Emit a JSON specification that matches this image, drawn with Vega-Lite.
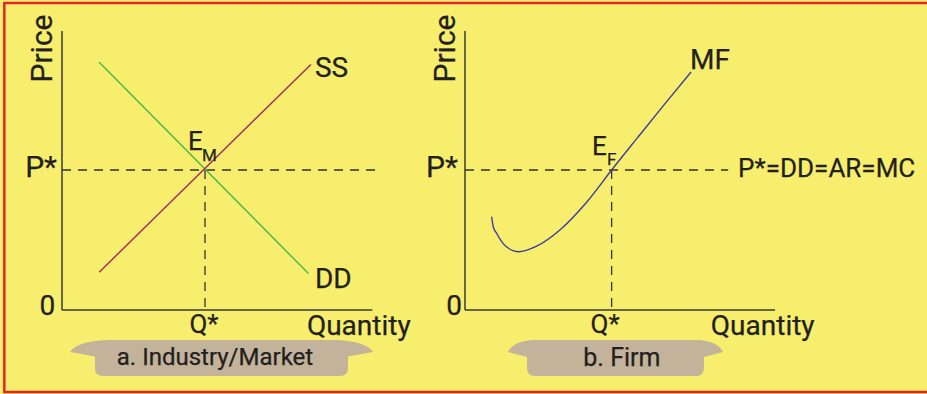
{
  "$schema": "https://vega.github.io/schema/vega-lite/v6.json",
  "width": 927,
  "height": 394,
  "padding": 0,
  "autosize": {"type": "none"},
  "background": "#F7EE6D",
  "config": {"view": {"stroke": null}, "text": {"font": "Roboto", "color": "#231F20", "stroke": "#231F20", "strokeWidth": 0.25}},
  "datasets": {
    "frame": [{"x": -1.86, "x2": 30, "y": 10.96, "y2": -2.93}],
    "plates": [
      {"panel": "a", "q": 5.145, "p": -1.714},
      {"panel": "b", "q": 17.855, "p": -1.714}
    ],
    "axes": [
      {"panel": "a", "q": 0, "p": 0, "q2": 0, "p2": 9.96},
      {"panel": "a", "q": 0, "p": 0, "q2": 10.01, "p2": 0},
      {"panel": "b", "q": 13, "p": 0, "q2": 13, "p2": 9.96},
      {"panel": "b", "q": 13, "p": 0, "q2": 23, "p2": 0}
    ],
    "guides": [
      {"panel": "a", "q": 0, "p": 5, "q2": 10.15, "p2": 5},
      {"panel": "a", "q": 4.613, "p": 5, "q2": 4.613, "p2": 0},
      {"panel": "b", "q": 13, "p": 5, "q2": 21.49, "p2": 5},
      {"panel": "b", "q": 17.73, "p": 5, "q2": 17.73, "p2": 0}
    ],
    "curves": [
      {"series": "DD", "q": 1.2, "p": 8.85},
      {"series": "DD", "q": 7.95, "p": 1.3},
      {"series": "SS", "q": 1.2, "p": 1.35},
      {"series": "SS", "q": 8.03, "p": 8.77},
      {"series": "MF", "q": 13.86, "p": 3.33},
      {"series": "MF", "q": 13.91, "p": 2.98},
      {"series": "MF", "q": 14.02, "p": 2.74},
      {"series": "MF", "q": 14.24, "p": 2.36},
      {"series": "MF", "q": 14.45, "p": 2.17},
      {"series": "MF", "q": 14.72, "p": 2.08},
      {"series": "MF", "q": 15.31, "p": 2.28},
      {"series": "MF", "q": 16.06, "p": 2.86},
      {"series": "MF", "q": 16.93, "p": 3.86},
      {"series": "MF", "q": 17.73, "p": 5.0},
      {"series": "MF", "q": 18.54, "p": 6.12},
      {"series": "MF", "q": 19.4, "p": 7.3},
      {"series": "MF", "q": 20.29, "p": 8.5}
    ],
    "labels": [
      {"kind": "price", "label": "Price", "q": -0.32, "p": 9.34},
      {"kind": "price", "label": "Price", "q": 12.68, "p": 9.34},
      {"kind": "pstar", "label": "P*", "q": -0.16, "p": 4.75},
      {"kind": "pstar", "label": "P*", "q": 12.77, "p": 4.75},
      {"kind": "zero", "label": "0", "q": -0.47, "p": -0.18},
      {"kind": "zero", "label": "0", "q": 12.65, "p": -0.18},
      {"kind": "qstar", "label": "Q*", "q": 4.58, "p": -0.82},
      {"kind": "qstar", "label": "Q*", "q": 17.52, "p": -0.82},
      {"kind": "axis", "label": "Quantity", "q": 7.9, "p": -0.89},
      {"kind": "axis", "label": "Quantity", "q": 20.93, "p": -0.89},
      {"kind": "curve", "label": "SS", "q": 8.16, "p": 8.32},
      {"kind": "curve", "label": "DD", "q": 8.16, "p": 0.786},
      {"kind": "curve", "label": "MF", "q": 20.26, "p": 8.61},
      {"kind": "eq", "label": "E", "q": 4.065, "p": 5.73},
      {"kind": "eq", "label": "E", "q": 17.1, "p": 5.54},
      {"kind": "sub", "label": "M", "q": 4.516, "p": 5.32},
      {"kind": "sub", "label": "F", "q": 17.58, "p": 5.18},
      {"kind": "rule", "label": "P*=DD=AR=MC", "q": 21.81, "p": 4.75},
      {"kind": "plateA", "label": "a. Industry/Market", "q": 4.935, "p": -1.98},
      {"kind": "plateB", "label": "b. Firm", "q": 18.06, "p": -2.0}
    ]
  },
  "encoding": {
    "x": {"field": "q", "type": "quantitative", "axis": null, "scale": {"domain": [-2, 27.903], "nice": false, "zero": false}},
    "y": {"field": "p", "type": "quantitative", "axis": null, "scale": {"domain": [-3, 11.0714], "nice": false, "zero": false}}
  },
  "layer": [
    {
      "data": {"name": "frame"},
      "mark": {"type": "rect", "fill": null, "stroke": "#E3262A", "strokeWidth": 2.5, "clip": true},
      "encoding": {
        "x": {"field": "x", "type": "quantitative"},
        "x2": {"field": "x2"},
        "y": {"field": "y", "type": "quantitative"},
        "y2": {"field": "y2"}
      }
    },
    {
      "data": {"name": "plates"},
      "transform": [{"filter": "datum.panel === 'a'"}],
      "mark": {"type": "point", "filled": true, "color": "#C3B39A", "opacity": 1, "strokeWidth": 0, "size": 91809,
        "shape": "M -0.736 -0.119 L 0.736 -0.119 Q 0.95 -0.115 1 -0.04 L 0.835 -0.01 L 0.835 0.07 Q 0.835 0.119 0.78 0.119 L -0.78 0.119 Q -0.835 0.119 -0.835 0.07 L -0.835 -0.01 L -1 -0.04 Q -0.95 -0.115 -0.736 -0.119 Z"}
    },
    {
      "data": {"name": "plates"},
      "transform": [{"filter": "datum.panel === 'b'"}],
      "mark": {"type": "point", "filled": true, "color": "#C3B39A", "opacity": 1, "strokeWidth": 0, "size": 46225,
        "shape": "M -0.749 -0.167 L 0.749 -0.167 Q 0.95 -0.16 1 -0.056 L 0.823 -0.01 L 0.823 0.09 Q 0.823 0.167 0.75 0.167 L -0.75 0.167 Q -0.823 0.167 -0.823 0.09 L -0.823 -0.01 L -1 -0.056 Q -0.95 -0.16 -0.749 -0.167 Z"}
    },
    {
      "data": {"name": "axes"},
      "mark": {"type": "rule", "color": "#3A3A3A", "strokeWidth": 1.5},
      "encoding": {"x2": {"field": "q2"}, "y2": {"field": "p2"}}
    },
    {
      "data": {"name": "guides"},
      "mark": {"type": "rule", "color": "#333333", "strokeWidth": 1.3, "strokeDash": [9, 7]},
      "encoding": {"x2": {"field": "q2"}, "y2": {"field": "p2"}}
    },
    {
      "data": {"name": "curves"},
      "mark": {"type": "line", "strokeWidth": 1.4, "interpolate": "monotone"},
      "encoding": {
        "color": {"field": "series", "type": "nominal", "legend": null,
          "scale": {"domain": ["DD", "SS", "MF"], "range": ["#45B649", "#A5285E", "#3C3C9E"]}},
        "detail": {"field": "series"}
      }
    },
    {
      "data": {"name": "labels"},
      "transform": [{"filter": "datum.kind === 'price'"}],
      "mark": {"type": "text", "fontSize": 30, "angle": 270, "align": "center", "baseline": "alphabetic"},
      "encoding": {"text": {"field": "label"}}
    },
    {
      "data": {"name": "labels"},
      "transform": [{"filter": "datum.kind === 'pstar'"}],
      "mark": {"type": "text", "fontSize": 30, "align": "right", "baseline": "alphabetic"},
      "encoding": {"text": {"field": "label"}}
    },
    {
      "data": {"name": "labels"},
      "transform": [{"filter": "datum.kind === 'zero'"}],
      "mark": {"type": "text", "fontSize": 28, "align": "center", "baseline": "alphabetic"},
      "encoding": {"text": {"field": "label"}}
    },
    {
      "data": {"name": "labels"},
      "transform": [{"filter": "datum.kind === 'qstar'"}],
      "mark": {"type": "text", "fontSize": 26, "align": "center", "baseline": "alphabetic"},
      "encoding": {"text": {"field": "label"}}
    },
    {
      "data": {"name": "labels"},
      "transform": [{"filter": "datum.kind === 'axis'"}],
      "mark": {"type": "text", "fontSize": 28, "align": "left", "baseline": "alphabetic"},
      "encoding": {"text": {"field": "label"}}
    },
    {
      "data": {"name": "labels"},
      "transform": [{"filter": "datum.kind === 'curve'"}],
      "mark": {"type": "text", "fontSize": 28, "align": "left", "baseline": "alphabetic"},
      "encoding": {"text": {"field": "label"}}
    },
    {
      "data": {"name": "labels"},
      "transform": [{"filter": "datum.kind === 'eq'"}],
      "mark": {"type": "text", "fontSize": 26, "align": "left", "baseline": "alphabetic"},
      "encoding": {"text": {"field": "label"}}
    },
    {
      "data": {"name": "labels"},
      "transform": [{"filter": "datum.kind === 'sub'"}],
      "mark": {"type": "text", "fontSize": 17, "align": "left", "baseline": "alphabetic"},
      "encoding": {"text": {"field": "label"}}
    },
    {
      "data": {"name": "labels"},
      "transform": [{"filter": "datum.kind === 'rule'"}],
      "mark": {"type": "text", "fontSize": 26, "align": "left", "baseline": "alphabetic"},
      "encoding": {"text": {"field": "label"}}
    },
    {
      "data": {"name": "labels"},
      "transform": [{"filter": "datum.kind === 'plateA'"}],
      "mark": {"type": "text", "fontSize": 24, "align": "center", "baseline": "alphabetic"},
      "encoding": {"text": {"field": "label"}}
    },
    {
      "data": {"name": "labels"},
      "transform": [{"filter": "datum.kind === 'plateB'"}],
      "mark": {"type": "text", "fontSize": 25, "align": "center", "baseline": "alphabetic"},
      "encoding": {"text": {"field": "label"}}
    }
  ]
}
